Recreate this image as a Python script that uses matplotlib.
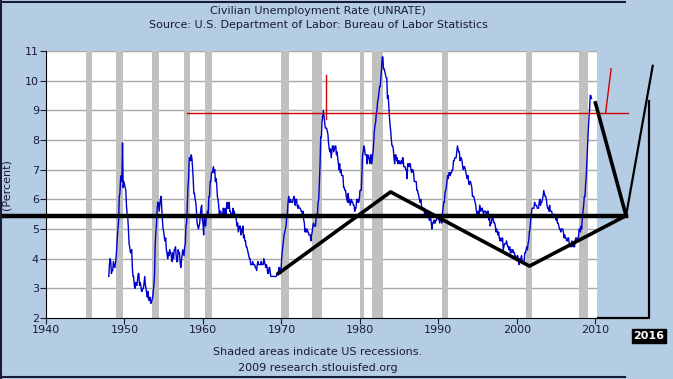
import matplotlib.pyplot as plt
from matplotlib.lines import Line2D

# monthly civilian unemployment rate, 1948-01 .. 2009-07
unrate = {
    1948: [3.4, 3.8, 4.0, 3.9, 3.5, 3.6, 3.6, 3.9, 3.8, 3.7, 3.8, 4.0],
    1949: [4.3, 4.7, 5.0, 5.3, 6.1, 6.2, 6.7, 6.8, 6.6, 7.9, 6.4, 6.6],
    1950: [6.5, 6.4, 6.3, 5.8, 5.5, 5.4, 5.0, 4.5, 4.4, 4.2, 4.2, 4.3],
    1951: [3.7, 3.4, 3.4, 3.1, 3.0, 3.2, 3.1, 3.1, 3.3, 3.5, 3.5, 3.1],
    1952: [3.2, 3.1, 2.9, 2.9, 3.0, 3.0, 3.2, 3.4, 3.1, 3.0, 2.8, 2.7],
    1953: [2.9, 2.6, 2.6, 2.7, 2.5, 2.5, 2.6, 2.7, 2.9, 3.1, 3.5, 4.5],
    1954: [4.9, 5.2, 5.7, 5.9, 5.9, 5.6, 5.8, 6.0, 6.1, 5.7, 5.3, 5.0],
    1955: [4.9, 4.7, 4.6, 4.7, 4.3, 4.2, 4.0, 4.2, 4.1, 4.3, 4.2, 4.2],
    1956: [4.0, 3.9, 4.2, 4.0, 4.3, 4.3, 4.4, 4.1, 3.9, 3.9, 4.3, 4.2],
    1957: [4.2, 3.9, 3.7, 3.9, 4.1, 4.3, 4.2, 4.1, 4.4, 4.5, 5.1, 5.2],
    1958: [5.8, 6.4, 6.7, 7.4, 7.4, 7.3, 7.5, 7.4, 7.1, 6.7, 6.2, 6.2],
    1959: [6.0, 5.9, 5.6, 5.2, 5.1, 5.0, 5.1, 5.2, 5.5, 5.7, 5.8, 5.3],
    1960: [5.2, 4.8, 5.4, 5.2, 5.1, 5.4, 5.5, 5.6, 5.5, 6.1, 6.1, 6.6],
    1961: [6.6, 6.9, 6.9, 7.0, 7.1, 6.9, 7.0, 6.6, 6.7, 6.5, 6.1, 6.0],
    1962: [5.8, 5.5, 5.6, 5.6, 5.5, 5.5, 5.4, 5.7, 5.6, 5.4, 5.7, 5.5],
    1963: [5.7, 5.9, 5.7, 5.7, 5.9, 5.6, 5.6, 5.4, 5.5, 5.5, 5.7, 5.5],
    1964: [5.6, 5.4, 5.4, 5.3, 5.1, 5.2, 4.9, 5.0, 5.1, 5.1, 4.8, 5.0],
    1965: [4.9, 5.1, 4.7, 4.8, 4.6, 4.6, 4.4, 4.4, 4.3, 4.2, 4.1, 4.0],
    1966: [4.0, 3.8, 3.8, 3.8, 3.9, 3.8, 3.8, 3.8, 3.7, 3.7, 3.6, 3.8],
    1967: [3.9, 3.8, 3.8, 3.8, 3.8, 3.9, 3.8, 3.8, 3.8, 4.0, 3.9, 3.8],
    1968: [3.7, 3.8, 3.7, 3.5, 3.5, 3.7, 3.7, 3.5, 3.4, 3.4, 3.4, 3.4],
    1969: [3.4, 3.4, 3.4, 3.4, 3.4, 3.5, 3.5, 3.5, 3.7, 3.7, 3.5, 3.5],
    1970: [3.9, 4.2, 4.4, 4.6, 4.8, 4.9, 5.0, 5.1, 5.4, 5.5, 5.9, 6.1],
    1971: [5.9, 5.9, 6.0, 5.9, 5.9, 5.9, 6.0, 6.1, 6.0, 5.8, 6.0, 6.0],
    1972: [5.8, 5.7, 5.8, 5.7, 5.7, 5.7, 5.6, 5.6, 5.5, 5.6, 5.3, 5.2],
    1973: [4.9, 5.0, 4.9, 5.0, 4.9, 4.9, 4.8, 4.8, 4.8, 4.6, 4.8, 4.9],
    1974: [5.1, 5.2, 5.1, 5.1, 5.1, 5.4, 5.5, 5.5, 5.9, 6.0, 6.6, 7.2],
    1975: [8.1, 8.1, 8.6, 8.8, 9.0, 8.8, 8.6, 8.4, 8.4, 8.4, 8.3, 8.2],
    1976: [7.9, 7.7, 7.6, 7.7, 7.4, 7.6, 7.8, 7.8, 7.6, 7.7, 7.8, 7.8],
    1977: [7.5, 7.6, 7.4, 7.2, 7.0, 7.2, 6.9, 7.0, 6.8, 6.8, 6.8, 6.4],
    1978: [6.4, 6.3, 6.3, 6.1, 6.0, 5.9, 6.2, 5.9, 6.0, 5.8, 5.9, 6.0],
    1979: [5.9, 5.9, 5.8, 5.8, 5.6, 5.7, 5.7, 6.0, 5.9, 6.0, 5.9, 6.0],
    1980: [6.3, 6.3, 6.3, 6.9, 7.5, 7.6, 7.8, 7.7, 7.5, 7.5, 7.5, 7.2],
    1981: [7.5, 7.4, 7.4, 7.2, 7.5, 7.5, 7.2, 7.4, 7.6, 7.9, 8.3, 8.5],
    1982: [8.6, 8.9, 9.0, 9.3, 9.4, 9.6, 9.8, 9.8, 10.1, 10.4, 10.8, 10.8],
    1983: [10.4, 10.4, 10.3, 10.2, 10.1, 10.1, 9.4, 9.5, 9.2, 8.8, 8.5, 8.3],
    1984: [8.0, 7.8, 7.8, 7.7, 7.4, 7.2, 7.5, 7.5, 7.3, 7.4, 7.2, 7.3],
    1985: [7.3, 7.2, 7.2, 7.3, 7.2, 7.4, 7.4, 7.1, 7.1, 7.1, 7.0, 7.0],
    1986: [6.7, 7.2, 7.2, 7.1, 7.2, 7.2, 7.0, 6.9, 7.0, 7.0, 6.9, 6.6],
    1987: [6.6, 6.6, 6.6, 6.3, 6.3, 6.2, 6.1, 6.0, 5.9, 6.0, 5.8, 5.7],
    1988: [5.7, 5.7, 5.7, 5.4, 5.6, 5.4, 5.4, 5.6, 5.4, 5.4, 5.3, 5.3],
    1989: [5.4, 5.2, 5.0, 5.2, 5.2, 5.3, 5.2, 5.2, 5.3, 5.3, 5.4, 5.4],
    1990: [5.4, 5.3, 5.2, 5.4, 5.4, 5.2, 5.5, 5.7, 5.9, 5.9, 6.2, 6.3],
    1991: [6.4, 6.6, 6.8, 6.7, 6.9, 6.9, 6.8, 6.9, 6.9, 7.0, 7.0, 7.3],
    1992: [7.3, 7.4, 7.4, 7.4, 7.6, 7.8, 7.7, 7.6, 7.6, 7.3, 7.4, 7.4],
    1993: [7.3, 7.1, 7.0, 7.1, 7.1, 7.0, 6.9, 6.8, 6.7, 6.8, 6.6, 6.5],
    1994: [6.6, 6.6, 6.5, 6.4, 6.1, 6.1, 6.1, 6.0, 5.9, 5.8, 5.6, 5.5],
    1995: [5.6, 5.4, 5.4, 5.8, 5.6, 5.6, 5.7, 5.7, 5.6, 5.5, 5.6, 5.6],
    1996: [5.6, 5.5, 5.5, 5.6, 5.6, 5.3, 5.5, 5.1, 5.2, 5.2, 5.4, 5.4],
    1997: [5.3, 5.2, 5.2, 5.1, 4.9, 5.0, 4.9, 4.8, 4.9, 4.7, 4.6, 4.7],
    1998: [4.6, 4.6, 4.7, 4.3, 4.4, 4.5, 4.5, 4.5, 4.6, 4.5, 4.4, 4.4],
    1999: [4.3, 4.4, 4.2, 4.3, 4.2, 4.3, 4.3, 4.2, 4.2, 4.1, 4.1, 4.0],
    2000: [4.0, 4.1, 4.0, 3.8, 4.0, 4.0, 4.0, 4.1, 3.9, 3.9, 3.9, 3.9],
    2001: [4.2, 4.2, 4.3, 4.4, 4.3, 4.5, 4.6, 4.9, 5.0, 5.3, 5.5, 5.7],
    2002: [5.7, 5.7, 5.7, 5.9, 5.8, 5.8, 5.8, 5.7, 5.7, 5.7, 5.9, 6.0],
    2003: [5.8, 5.9, 5.9, 6.0, 6.1, 6.3, 6.2, 6.1, 6.1, 6.0, 5.8, 5.7],
    2004: [5.7, 5.6, 5.8, 5.6, 5.6, 5.6, 5.5, 5.4, 5.4, 5.5, 5.4, 5.4],
    2005: [5.3, 5.4, 5.2, 5.2, 5.1, 5.0, 5.0, 4.9, 5.0, 5.0, 5.0, 4.9],
    2006: [4.7, 4.8, 4.7, 4.7, 4.6, 4.6, 4.7, 4.7, 4.5, 4.4, 4.5, 4.4],
    2007: [4.6, 4.5, 4.4, 4.5, 4.4, 4.6, 4.7, 4.6, 4.7, 4.7, 4.7, 5.0],
    2008: [5.0, 4.9, 5.1, 5.0, 5.4, 5.6, 5.8, 6.1, 6.1, 6.5, 6.8, 7.3],
    2009: [7.8, 8.3, 8.7, 9.0, 9.5, 9.5, 9.4],
}

# recessions (start, end) in decimal years
recessions = [(1945.1, 1945.8), (1948.9, 1949.8), (1953.5, 1954.4), (1957.6, 1958.3),
              (1960.3, 1961.1), (1969.9, 1970.9), (1973.9, 1975.2), (1980.0, 1980.5),
              (1981.5, 1982.9), (1990.5, 1991.2), (2001.2, 2001.9), (2007.9, 2009.1)]

# hand-drawn annotation lines
zig_x = [1969.6, 1983.9, 2001.6, 2013.9]
zig_y = [3.5, 6.25, 3.75, 5.45]
drop_x = [2010.0, 2013.9]
drop_y = [9.25, 5.45]
rise_x = [2013.9, 2017.3]
rise_y = [5.45, 10.5]
box_x = [2010.3, 2016.8, 2016.8]
box_y = [2.0, 2.0, 9.3]
flat_level = 5.45
red_level = 8.92
red_spike_x = [1975.7, 1975.7]
red_spike_y = [10.2, 8.7]
red_tail_x = [2011.3, 2012.0]
red_tail_y = [8.92, 10.4]

dates = []
values = []
for yr in sorted(unrate):
    for m, v in enumerate(unrate[yr]):
        dates.append(yr + m / 12)
        values.append(v)

bg = '#B4CDE5'
navy = '#1A1A3A'

fig = plt.figure(figsize=(6.73, 3.79), dpi=100, facecolor=bg)
ax = fig.add_axes([46 / 673, 1 - 318 / 379, 551 / 673, 267 / 379])
ax.set_facecolor('white')

for s, e in recessions:
    ax.axvspan(s, e, color='#C0C0C0', lw=0, zorder=1)
for v in range(3, 12):
    ax.axhline(v, color='#A8A8A8', lw=1, zorder=0.5)

ax.plot(dates, values, color='#0000CC', lw=1, zorder=3)

# annotations (drawn beyond the axes)
ax.plot([1934, 2013.9], [flat_level, flat_level], color='black', lw=3.2, clip_on=False, zorder=5)
ax.plot(zig_x, zig_y, color='black', lw=2.6, clip_on=False, zorder=5)
ax.plot(drop_x, drop_y, color='black', lw=2.6, clip_on=False, zorder=5)
ax.plot(rise_x, rise_y, color='black', lw=1.6, clip_on=False, zorder=5)
ax.plot(box_x, box_y, color='black', lw=1.6, clip_on=False, zorder=5)
ax.plot([1958.0, 2014.2], [red_level, red_level], color='#D00000', lw=1, clip_on=False, zorder=4)
ax.plot(red_spike_x, red_spike_y, color='#D00000', lw=1, clip_on=False, zorder=4)
ax.plot(red_tail_x, red_tail_y, color='#D00000', lw=1, clip_on=False, zorder=4)

ax.set_xlim(1940, 2010.2)
ax.set_ylim(2, 11)
ax.set_xticks(range(1940, 2011, 10))
ax.set_yticks(range(2, 12))
ax.tick_params(labelsize=8, colors=navy, length=4, width=0.8, pad=1)
for sp in ['top', 'right']:
    ax.spines[sp].set_visible(False)
ax.spines['left'].set_color('black')
ax.spines['bottom'].set_color('black')
ax.set_ylabel('(Percent)', fontsize=8, color=navy, labelpad=2)
ax.yaxis.set_label_coords(-0.062, 0.5)

fig.text(318 / 673, 1 - 11 / 379, 'Civilian Unemployment Rate (UNRATE)', ha='center', va='center',
         fontsize=8, color=navy)
fig.text(318 / 673, 1 - 25 / 379, 'Source: U.S. Department of Labor: Bureau of Labor Statistics',
         ha='center', va='center', fontsize=8, color=navy)
fig.text(318 / 673, 1 - 352 / 379, 'Shaded areas indicate US recessions.', ha='center', va='center',
         fontsize=8, color=navy)
fig.text(318 / 673, 1 - 368 / 379, '2009 research.stlouisfed.org', ha='center', va='center',
         fontsize=8, color=navy)
fig.text(649 / 673, 1 - 336 / 379, '2016', ha='center', va='center', fontsize=8, fontweight='bold',
         color='white', bbox=dict(boxstyle='square,pad=0.15', fc='black', ec='black'))

# outer frame of the original image
frame_r = 625 / 673
fig.add_artist(Line2D([0, frame_r], [1 - 1.5 / 379, 1 - 1.5 / 379], color=navy, lw=1.5))
fig.add_artist(Line2D([0.002, 0.002], [0, 1], color=navy, lw=1.5))
fig.add_artist(Line2D([0, frame_r], [1 - 377 / 379, 1 - 377 / 379], color=navy, lw=1.5))

fig.savefig('out.png', dpi=100, facecolor=bg)
